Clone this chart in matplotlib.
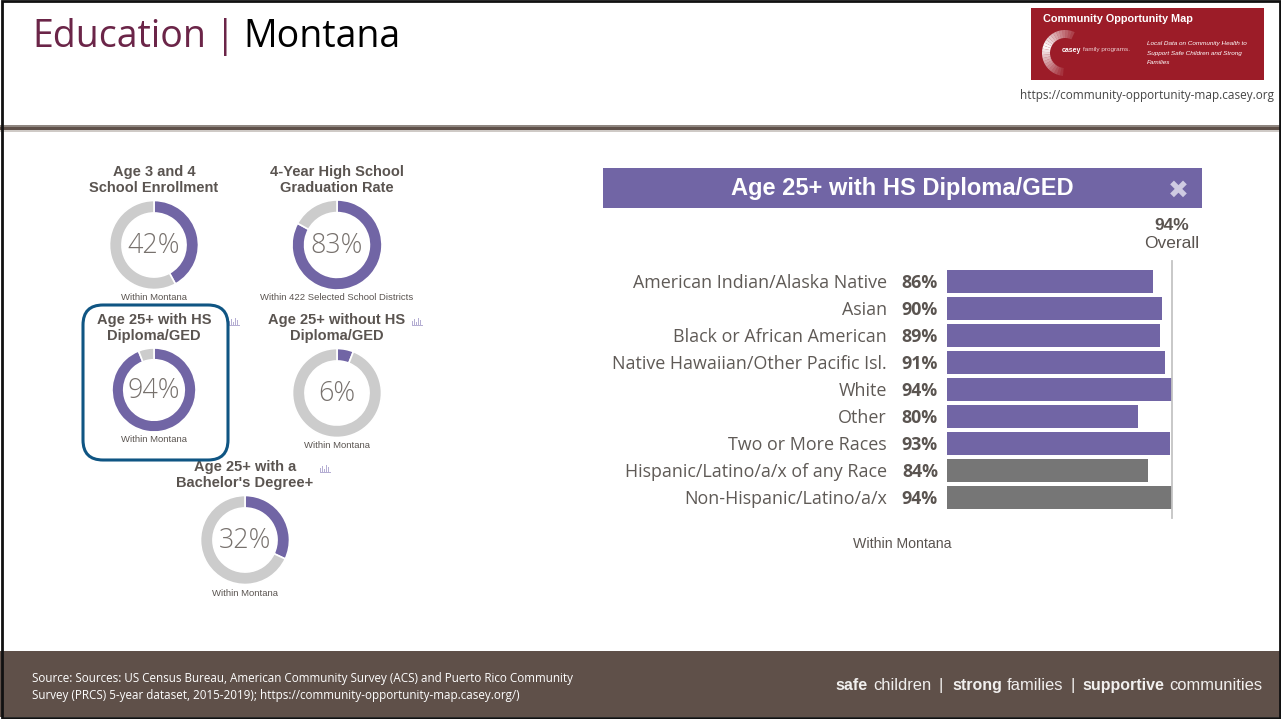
import matplotlib
matplotlib.use("Agg")
import matplotlib.pyplot as plt
from matplotlib.patches import Rectangle, FancyBboxPatch, Wedge

W, H = 1281, 719
PURPLE = "#7165a5"
GREY_BAR = "#767676"
RING = "#cccccc"
BROWN = "#5f5049"
TXT = "#5a5450"

# donut panels
donut_names = ["Age 3 and 4\nSchool Enrollment", "4-Year High School\nGraduation Rate",
               "Age 25+ with HS\nDiploma/GED", "Age 25+ without HS\nDiploma/GED",
               "Age 25+ with a\nBachelor's Degree+"]
donut_values = [42, 83, 94, 6, 32]
donut_notes = ["Within Montana", "Within 422 Selected School Districts", "Within Montana",
               "Within Montana", "Within Montana"]

# bar panel
race_labels = ["American Indian/Alaska Native", "Asian", "Black or African American",
               "Native Hawaiian/Other Pacific Isl.", "White", "Other", "Two or More Races",
               "Hispanic/Latino/a/x of any Race", "Non-Hispanic/Latino/a/x"]
race_values = [86, 90, 89, 91, 94, 80, 93, 84, 94]
overall = 94

fig = plt.figure(figsize=(W / 100, H / 100), dpi=100)
bg = fig.add_axes([0, 0, 1, 1])
bg.set_xlim(0, W)
bg.set_ylim(H, 0)
bg.axis("off")


def px_axes(x0, y0, x1, y1):
    return fig.add_axes([x0 / W, 1 - y1 / H, (x1 - x0) / W, (y1 - y0) / H])


# slide furniture
bg.add_patch(Rectangle((0, 651), W, 66, color=BROWN, lw=0))
bg.add_patch(Rectangle((0, 125), W, 2, color="#8f8680", lw=0))
bg.add_patch(Rectangle((0, 127), W, 3, color=BROWN, lw=0))
bg.add_patch(Rectangle((0, 130), W, 2, color="#cfcac6", lw=0))
bg.add_patch(Rectangle((2, 1), W - 3.5, H - 2, fill=False, ec="#111111", lw=2))

bg.text(32, 47, "Education", fontsize=27, family="Open Sans", color="#6b2548")
bg.text(215, 47, "|", fontsize=27, family="Open Sans", color="#6b2548")
bg.text(243, 47, "Montana", fontsize=27, family="Open Sans", color="black")

# logo
bg.add_patch(Rectangle((1031, 8), 233, 72, color="#9c1c28", lw=0))
bg.text(1043, 18.5, "Community Opportunity Map", fontsize=7.8, family="Liberation Sans",
        weight="bold", color="white", va="center")
for a in range(95, 295, 8):
    fade = 1 - abs(a - 195) / 110
    bg.add_patch(Wedge((1065, 53), 23, a, a + 8, width=8, color="white", alpha=max(fade, 0.1), lw=0))
bg.text(1062, 51.5, "casey", fontsize=5, family="Liberation Sans", weight="bold", color="white")
bg.text(1083, 51.5, "family programs.", fontsize=4.6, family="Liberation Sans", color="#eccfd2")
bg.text(1147, 43.5, "Local Data on Community Health to", fontsize=4.6, family="Liberation Sans",
        style="italic", color="white", va="center")
bg.text(1147, 53, "Support Safe Children and Strong", fontsize=4.6, family="Liberation Sans",
        style="italic", color="white", va="center")
bg.text(1147, 63, "Families", fontsize=4.6, family="Liberation Sans", style="italic", color="white", va="center")
bg.text(1274, 95, "https://community-opportunity-map.casey.org", fontsize=8.5, family="Open Sans",
        color="#444444", ha="right", va="center")

# highlight box round the third donut
bg.add_patch(FancyBboxPatch((83, 305), 145, 155, boxstyle="round,pad=0,rounding_size=20",
                            fill=False, ec="#0f5583", lw=2.2, zorder=5))

# donuts
centers = [(154, 245), (337, 245), (154, 390), (337, 393), (245, 540)]
radii = [44.5, 45, 42, 44.5, 44.5]
title_y = [180, 180, 328, 328, 475]
note_y = [298, 298, 440, 445, 593]
for name, val, note, (cx, cy), r, ty, ny in zip(donut_names, donut_values, donut_notes,
                                                centers, radii, title_y, note_y):
    ax = px_axes(cx - r, cy - r, cx + r, cy + r)
    ax.pie([val, 100 - val], colors=[PURPLE, RING], startangle=90, counterclock=False, radius=1,
           wedgeprops=dict(width=0.28, edgecolor="white", linewidth=1.2))
    ax.set_xlim(-1, 1)
    ax.set_ylim(-1, 1)
    ax.text(0, -0.02, f"{val}%", fontsize=19.4, family="Open Sans", weight="light", color="#77716d",
            ha="center", va="center")
    bg.text(cx, ty, name, fontsize=10.5, family="Liberation Sans", weight="bold", color=TXT,
            ha="center", va="center", linespacing=1.22)
    bg.text(cx, ny, note, fontsize=6.8, family="Liberation Sans", color=TXT, ha="center", va="center")

# small chart icons next to three of the titles
for ix, iy in [(229, 325), (412, 325), (320, 472)]:
    for k, h in enumerate([4, 6, 3, 7, 5]):
        bg.add_patch(Rectangle((ix + k * 2, iy - h), 1.2, h, color="#b5aed3", lw=0))
    bg.add_patch(Rectangle((ix - 0.5, iy), 11, 0.8, color="#b5aed3", lw=0))

# bar panel header
bg.add_patch(Rectangle((603, 168), 599, 40, color=PURPLE, lw=0))
bg.text(902, 188, "Age 25+ with HS Diploma/GED", fontsize=17, family="Liberation Sans", weight="bold",
        color="white", ha="center", va="center")
bg.text(1178, 191, "\u2716", fontsize=18, family="DejaVu Sans", color="#cfcbe2", ha="center", va="center")
bg.text(1172, 225, f"{overall}%", fontsize=12.5, family="Liberation Sans", weight="bold", color=TXT,
        ha="center", va="center")
bg.text(1172, 243, "Overall", fontsize=12.5, family="Liberation Sans", color=TXT, ha="center", va="center")

# bars
bar_ax = px_axes(947, 268, 1172, 511)
colors = [PURPLE] * 7 + [GREY_BAR] * 2
bar_ax.barh(range(len(race_values)), race_values, height=0.83, color=colors, zorder=2)
bar_ax.set_xlim(0, overall)
bar_ax.set_ylim(len(race_values) - 0.5, -0.5)
bar_ax.axis("off")
bar_ax.axvline(overall, ymin=-0.03, ymax=1.03, color="#c4c4c4", lw=1.3, clip_on=False, zorder=3)
for i, (lab, v) in enumerate(zip(race_labels, race_values)):
    bar_ax.annotate(f"{v}%", (0, i), xytext=(-9, -6.5), textcoords="offset pixels", ha="right", va="baseline",
                    fontsize=12.8, family="Open Sans", weight="bold", color=TXT)
    bar_ax.annotate(lab, (0, i), xytext=(-60, -6.5), textcoords="offset pixels", ha="right", va="baseline",
                    fontsize=12.9, family="Open Sans", color="#5f5a56")
bg.text(902, 544, "Within Montana", fontsize=10.2, family="Liberation Sans", color=TXT, ha="center", va="center")

# footer
bg.text(32, 687, "Source: Sources: US Census Bureau, American Community Survey (ACS) and Puerto Rico Community\n"
        "Survey (PRCS) 5-year dataset, 2015-2019); https://community-opportunity-map.casey.org/)",
        fontsize=8.34, family="Open Sans", color="white", va="center", linespacing=1.38)
slogan = [("safe", "bold", 835), ("children", "normal", 873), ("|", "normal", 939), ("strong", "bold", 952),
          ("families", "normal", 1007), ("|", "normal", 1071), ("supportive", "bold", 1082),
          ("communities", "normal", 1169)]
for word, wt, x in slogan:
    bg.text(x, 690, word, fontsize=11.5 if wt == "bold" else 11.9, family="Liberation Sans", weight=wt,
            color="#f1efee")

fig.savefig("out.png", dpi=100)
